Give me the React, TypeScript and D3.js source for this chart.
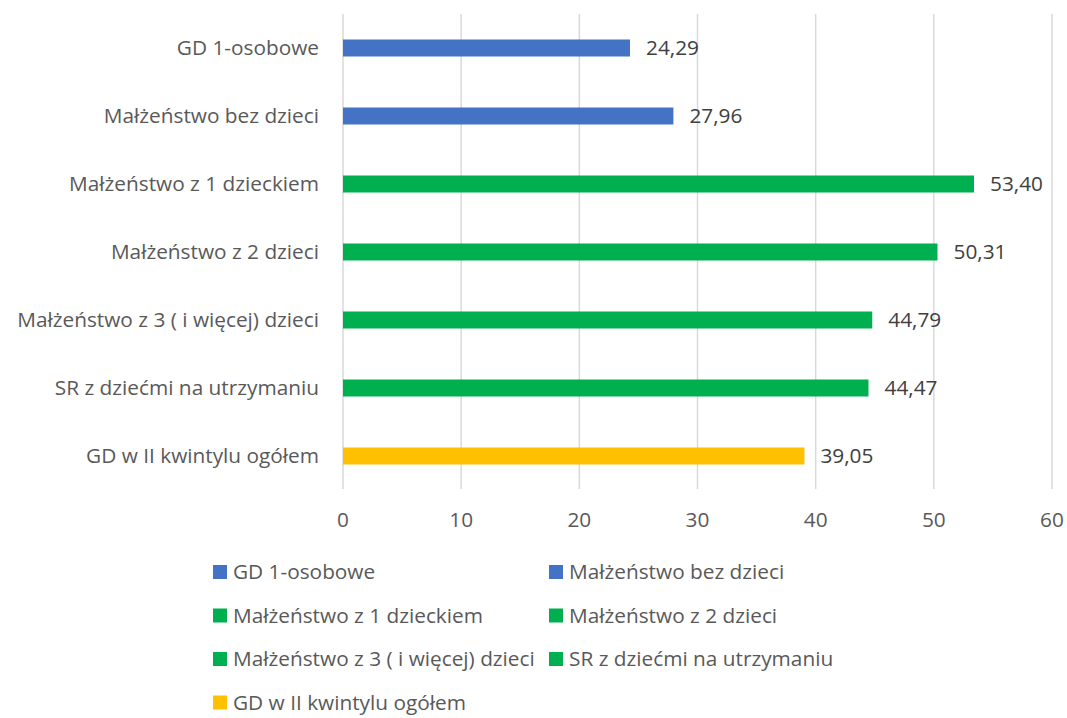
import React, { useEffect, useRef } from 'react';
import * as d3 from 'd3';

const categories = [
  'GD 1-osobowe',
  'Małżeństwo bez dzieci',
  'Małżeństwo z 1 dzieckiem',
  'Małżeństwo z 2 dzieci',
  'Małżeństwo z 3 ( i więcej) dzieci',
  'SR z dziećmi na utrzymaniu',
  'GD w II kwintylu ogółem',
];
const values = [24.29, 27.96, 53.4, 50.31, 44.79, 44.47, 39.05];
const groups = ['blue', 'blue', 'green', 'green', 'green', 'green', 'yellow'];
const xTicks = [0, 10, 20, 30, 40, 50, 60];

const WIDTH = 1067;
const HEIGHT = 718;
const FONT = '"Open Sans", Lato, sans-serif';
const FS = '20.8px';
const TEXT = '#595959';

const App = () => {
  const ref = useRef<SVGSVGElement | null>(null);

  useEffect(() => {
    const svg = d3.select(ref.current);
    svg.selectAll('*').remove();

    const color = d3.scaleOrdinal<string, string>()
      .domain(['blue', 'green', 'yellow'])
      .range(['#4472C4', '#00B050', '#FFC000']);

    const x = d3.scaleLinear().domain([0, 60]).range([343, 1052]);
    const y = d3.scaleBand().domain(categories).range([14, 490]).paddingInner(0.75).paddingOuter(0.375);

    // gridlines
    svg.append('g')
      .selectAll('line')
      .data(xTicks)
      .enter()
      .append('line')
      .attr('x1', d => x(d))
      .attr('x2', d => x(d))
      .attr('y1', 14)
      .attr('y2', 489)
      .attr('stroke', '#D9D9D9')
      .attr('stroke-width', 1.5);

    // tick labels
    svg.append('g')
      .selectAll('text')
      .data(xTicks)
      .enter()
      .append('text')
      .attr('x', d => x(d))
      .attr('y', 527)
      .attr('text-anchor', 'middle')
      .style('font-family', FONT)
      .style('font-size', FS)
      .style('fill', TEXT)
      .text(d => d);

    // category labels
    svg.append('g')
      .selectAll('text')
      .data(categories)
      .enter()
      .append('text')
      .attr('x', 319)
      .attr('y', d => (y(d) as number) + y.bandwidth() / 2)
      .attr('dy', '0.35em')
      .attr('text-anchor', 'end')
      .style('font-family', FONT)
      .style('font-size', FS)
      .style('fill', TEXT)
      .text(d => d);

    // bars
    svg.append('g')
      .selectAll('rect')
      .data(values)
      .enter()
      .append('rect')
      .attr('x', x(0))
      .attr('y', (d, i) => y(categories[i]) as number)
      .attr('width', d => x(d) - x(0))
      .attr('height', y.bandwidth())
      .attr('fill', (d, i) => color(groups[i]));

    // value labels
    svg.append('g')
      .selectAll('text')
      .data(values)
      .enter()
      .append('text')
      .attr('x', d => x(d) + 16)
      .attr('y', (d, i) => (y(categories[i]) as number) + y.bandwidth() / 2)
      .attr('dy', '0.35em')
      .style('font-family', FONT)
      .style('font-size', FS)
      .style('fill', '#404040')
      .text(d => d.toFixed(2).replace('.', ','));

    // legend, two columns
    const legend = svg.append('g')
      .selectAll('g')
      .data(categories)
      .enter()
      .append('g')
      .attr('transform', (d, i) => `translate(${i % 2 === 0 ? 213 : 549}, ${572 + Math.floor(i / 2) * 43.5})`);

    legend.append('rect')
      .attr('x', 0)
      .attr('y', -7)
      .attr('width', 14)
      .attr('height', 14)
      .attr('fill', (d, i) => color(groups[i]));

    legend.append('text')
      .attr('x', 20)
      .attr('dy', '0.35em')
      .style('font-family', FONT)
      .style('font-size', FS)
      .style('fill', TEXT)
      .text(d => d);
  }, []);

  return (
    <svg
      ref={ref}
      width={WIDTH}
      height={HEIGHT}
      style={{ position: 'absolute', left: 0, top: 0, background: '#fff' }}
    />
  );
};

export default App;
